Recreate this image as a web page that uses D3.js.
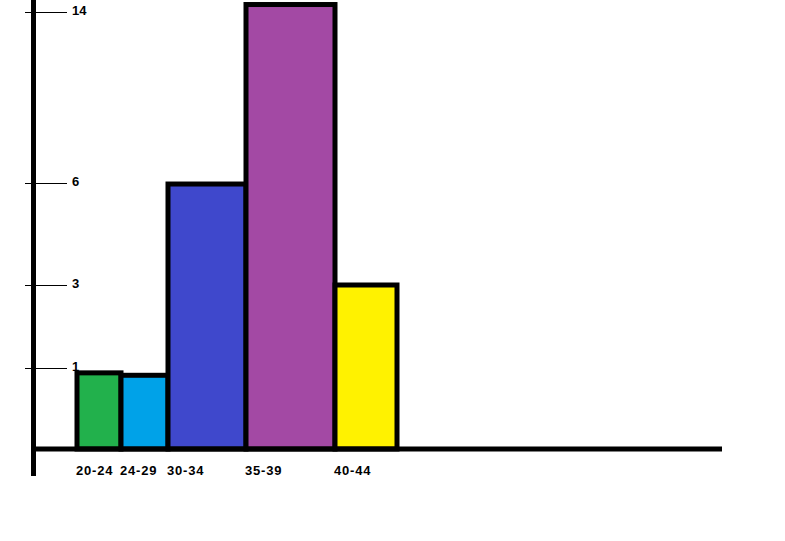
<!DOCTYPE html>
<html>
<head>
<meta charset="utf-8">
<script src="https://cdn.jsdelivr.net/npm/d3@7"></script>
<style>
	body{margin:0;background:#fff}
	svg{display:block}
	text{font-family:"Liberation Sans",Arial,sans-serif;font-weight:bold;fill:#000}
</style>
</head>
<body>
<div id="chart"></div>
<script>
// age groups and counts
var categories = ["20-24","24-29","30-34","35-39","40-44"];
var counts = [0.94, 0.91, 5.97, 14.35, 3.0];
var colors = ["#22b14c","#00a2e8","#3f48cc","#a349a4","#fff200"];
var tickValues = [1,3,6,14];

var W = 785, H = 541;

// the drawn y axis is not evenly spaced, so a polylinear scale
var Y = d3.scaleLinear().domain([0,1,3,6,14]).range([449,368,285,183,12]);
// bars have different widths: bar edge index -> x
var X = d3.scaleLinear().domain([0,1,2,3,4,5]).range([77,121,168,246,335,397]);

var svg = d3.select("#chart").append("svg")
	.attr("width",W).attr("height",H)
	.attr("viewBox","0 0 "+W+" "+H);

// bars
svg.selectAll(".bar").data(counts).enter().append("rect")
	.attr("class","bar")
	.attr("x",(d,i)=>X(i))
	.attr("y",d=>Y(d))
	.attr("width",(d,i)=>X(i+1)-X(i))
	.attr("height",d=>Y(0)-Y(d))
	.style("fill",(d,i)=>colors[i])
	.style("stroke","black")
	.style("stroke-width",5)

// baseline
svg.append("line")
	.attr("x1",31).attr("x2",722)
	.attr("y1",Y(0)).attr("y2",Y(0))
	.style("stroke","black").style("stroke-width",5)

// y axis line
svg.append("line")
	.attr("x1",33.5).attr("x2",33.5)
	.attr("y1",0).attr("y2",476)
	.style("stroke","black").style("stroke-width",5)

// y ticks
var yAxis = d3.axisRight(Y).tickValues(tickValues).tickSize(42).tickPadding(5);
var gy = svg.append("g").attr("transform","translate(25,0)").call(yAxis);
gy.select(".domain").remove();
gy.selectAll(".tick line").style("stroke","black").style("stroke-width",1);
gy.selectAll(".tick text").style("font-size","13px").attr("dy","0.2em");

// category labels
svg.selectAll(".cat").data(categories).enter().append("text")
	.attr("class","cat")
	.attr("x",(d,i)=>X(i)-1)
	.attr("y",475)
	.style("font-size","13px")
	.style("letter-spacing","0.8px")
	.text(d=>d)
</script>
</body>
</html>
